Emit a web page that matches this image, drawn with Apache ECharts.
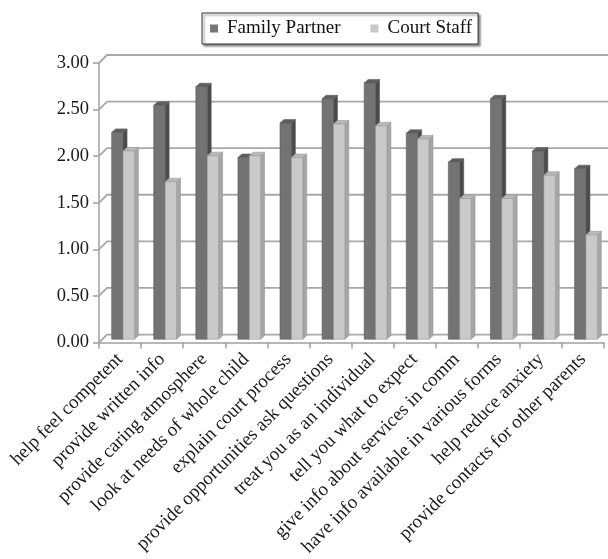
<!DOCTYPE html>
<html>
<head>
<meta charset="utf-8">
<script src="https://cdn.jsdelivr.net/npm/echarts@6/dist/echarts.min.js"></script>
<style>
  html, body { margin: 0; padding: 0; background: #ffffff; }
  #chart { width: 608px; height: 559px; }
</style>
</head>
<body>
<div id="chart"></div>
<script>
// Survey items rated by families
const categories = [
  'help feel competent',
  'provide written info',
  'provide caring atmosphere',
  'look at needs of whole child',
  'explain court process',
  'provide opportunities ask questions',
  'treat you as an individual',
  'tell you what to expect',
  'give info about services in comm',
  'have info available in various forms',
  'help reduce anxiety',
  'provide contacts for other parents'
];
const familyPartner = [2.22, 2.51, 2.71, 1.95, 2.32, 2.58, 2.75, 2.21, 1.90, 2.58, 2.02, 1.83];
const courtStaff    = [2.02, 1.69, 1.97, 1.97, 1.95, 2.31, 2.29, 2.15, 1.51, 1.51, 1.76, 1.12];
const yTicks = [0, 0.5, 1, 1.5, 2, 2.5, 3];

const SERIF = "'Liberation Serif', 'Times New Roman', serif";

// pseudo-3D depth offsets (pixels)
const WALL_DX = 8, WALL_DY = -8;     // back wall relative to front plane
const BAR_SX = 3, BAR_SY = -3.3;     // bar front face relative to front plane
const BAR_DX = 4, BAR_DY = -3.5;     // bar depth

const palettes = [
  { front: '#737373', side: '#4b4b4b', top: '#5e5e5e', edge: '#5a5a5a' },
  { front: '#c9c9c9', side: '#a6a6a6', top: '#b9b9b9', edge: '#9a9a9a' }
];

function barRenderer(k) {
  const pal = palettes[k];
  return function (params, api) {
    const i = api.value(0);
    const v = api.value(1);
    const top = api.coord([i, v]);
    const base = api.coord([i, 0]);
    const band = api.size([1, 0])[0];
    const w = band * 0.27;
    const cx = top[0] + BAR_SX;
    const x0 = k === 0 ? cx - w : cx;
    const x1 = x0 + w;
    const yT = top[1] + BAR_SY;
    const yB = base[1] + BAR_SY;
    return {
      type: 'group',
      children: [
        {
          type: 'polygon',
          shape: { points: [[x1, yT], [x1 + BAR_DX, yT + BAR_DY], [x1 + BAR_DX, yB + BAR_DY], [x1, yB]] },
          style: { fill: pal.side, stroke: pal.edge, lineWidth: 0.6 }
        },
        {
          type: 'polygon',
          shape: { points: [[x0, yT], [x0 + BAR_DX, yT + BAR_DY], [x1 + BAR_DX, yT + BAR_DY], [x1, yT]] },
          style: { fill: pal.top, stroke: pal.edge, lineWidth: 0.6 }
        },
        {
          type: 'rect',
          shape: { x: x0, y: yT, width: w, height: yB - yT },
          style: { fill: pal.front, stroke: pal.edge, lineWidth: 0.6 }
        }
      ]
    };
  };
}

// side wall + back wall gridlines
function wallRenderer(params, api) {
  const cs = params.coordSys;
  const y = api.coord([0, api.value(1)])[1];
  return {
    type: 'polyline',
    shape: { points: [[cs.x, y], [cs.x + WALL_DX, y + WALL_DY], [cs.x + cs.width + WALL_DX, y + WALL_DY]] },
    style: { fill: null, stroke: '#a8a8a8', lineWidth: 1.8 }
  };
}

const chart = echarts.init(document.getElementById('chart'), null, { renderer: 'canvas' });
chart.setOption({
  animation: false,
  backgroundColor: '#ffffff',
  legend: {
    data: ['Family Partner', 'Court Staff'],
    left: 202,
    top: 13,
    padding: [6, 6, 6, 8],
    itemWidth: 8,
    itemHeight: 8,
    itemGap: 30,
    icon: 'rect',
    borderColor: '#333333',
    borderWidth: 1,
    backgroundColor: '#ffffff',
    shadowColor: 'rgba(0,0,0,0.45)',
    shadowBlur: 2,
    shadowOffsetX: 2,
    shadowOffsetY: 2,
    textStyle: { fontFamily: SERIF, fontSize: 19, color: '#111111', padding: [0, 0, 0, 4] }
  },
  grid: { left: 99, right: 4, top: 63, bottom: 214, containLabel: false },
  xAxis: {
    type: 'category',
    data: categories,
    boundaryGap: true,
    axisLine: { show: true, lineStyle: { color: '#a0a0a0', width: 1.5 } },
    axisTick: { show: true, length: 6, lineStyle: { color: '#a0a0a0', width: 1.5 } },
    axisLabel: {
      interval: 0,
      rotate: 45,
      margin: 14,
      fontFamily: SERIF,
      fontSize: 19,
      color: '#1a1a1a'
    },
    splitLine: { show: false }
  },
  yAxis: {
    type: 'value',
    min: yTicks[0],
    max: yTicks[yTicks.length - 1],
    interval: 0.5,
    axisLine: { show: true, lineStyle: { color: '#a0a0a0', width: 1.5 } },
    axisTick: { show: true, length: 6, lineStyle: { color: '#a0a0a0', width: 1.5 } },
    axisLabel: {
      margin: 10,
      fontFamily: SERIF,
      fontSize: 18.5,
      color: '#1a1a1a',
      formatter: function (v) { return v.toFixed(2); }
    },
    splitLine: { show: false }
  },
  series: [
    {
      type: 'custom',
      name: 'wall',
      silent: true,
      clip: false,
      z: 1,
      renderItem: wallRenderer,
      encode: { x: 0, y: 1 },
      data: yTicks.map(function (t) { return [0, t]; })
    },
    {
      type: 'custom',
      name: 'Family Partner',
      clip: false,
      z: 3,
      itemStyle: { color: '#777777' },
      renderItem: barRenderer(0),
      encode: { x: 0, y: 1 },
      data: familyPartner.map(function (v, i) { return [i, v]; })
    },
    {
      type: 'custom',
      name: 'Court Staff',
      clip: false,
      z: 3,
      itemStyle: { color: '#c8c8c8' },
      renderItem: barRenderer(1),
      encode: { x: 0, y: 1 },
      data: courtStaff.map(function (v, i) { return [i, v]; })
    }
  ]
});
</script>
</body>
</html>
